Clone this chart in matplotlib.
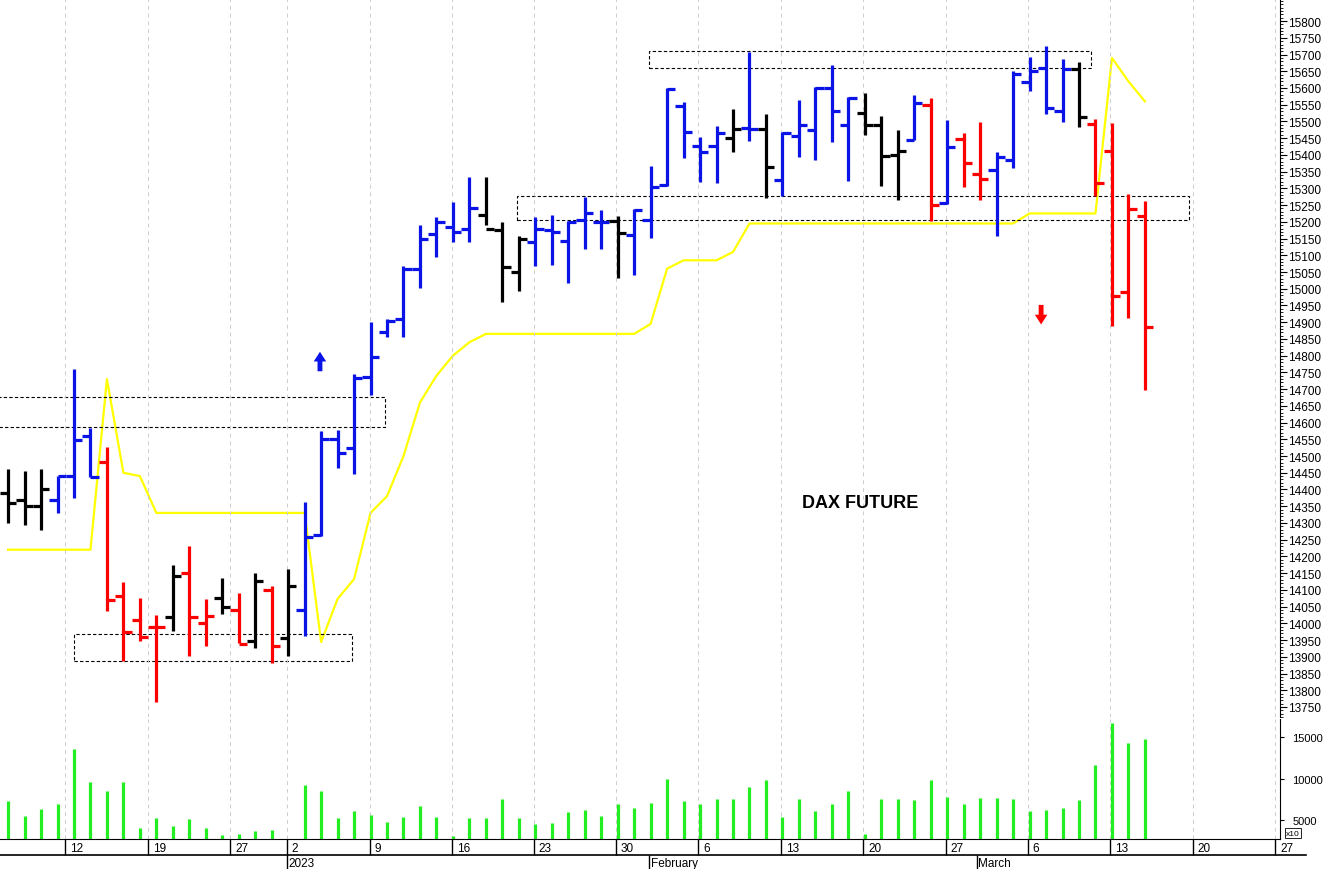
import matplotlib
matplotlib.use("Agg")
import matplotlib.pyplot as plt
import numpy as np

plt.rcParams["font.family"] = ["Liberation Sans", "DejaVu Sans"]

# DATA

opens = [14390, 14370, 14350, 14370, 14440, 14560, 14482, 14081, 14010, 13990,
         14020, 14150, 14001, 14075, 14040, 13947, 14100, 13956, 14040, 14264,
         14550, 14524, 14736, 14870, 14910, 15058, 15164, 15185, 15180, 15220,
         15175, 15050, 15140, 15175, 15142, 15205, 15200, 15203, 15160, 15205,
         15310, 15546, 15426, 15427, 15450, 15480, 15478, 15325, 15457, 15475,
         15600, 15488, 15525, 15490, 15400, 15445, 15550, 15255, 15448, 15343,
         15355, 15385, 15618, 15660, 15530, 15657, 15492, 15411, 14990, 15218]
highs = [14460, 14455, 14460, 14440, 14760, 14583, 14527, 14123, 14075, 14024,
         14174, 14231, 14072, 14135, 14090, 14150, 14112, 14162, 14362, 14574,
         14578, 14745, 14900, 14910, 15068, 15190, 15214, 15259, 15334, 15334,
         15199, 15157, 15214, 15220, 15202, 15274, 15235, 15217, 15237, 15367,
         15600, 15558, 15453, 15486, 15537, 15707, 15522, 15468, 15564, 15603,
         15668, 15573, 15585, 15516, 15474, 15580, 15570, 15504, 15465, 15498,
         15408, 15651, 15692, 15725, 15686, 15677, 15507, 15495, 15283, 15262]
lows = [14300, 14294, 14280, 14330, 14374, 14437, 14036, 13887, 13947, 13764,
        13977, 13902, 13932, 14028, 13940, 13926, 13881, 13902, 13962, 14261,
        14464, 14446, 14682, 14855, 14855, 15002, 15094, 15139, 15139, 15190,
        14960, 14993, 15068, 15070, 15017, 15118, 15120, 15032, 15040, 15151,
        15307, 15390, 15319, 15316, 15408, 15441, 15271, 15277, 15393, 15384,
        15438, 15322, 15459, 15307, 15265, 15444, 15202, 15253, 15303, 15265,
        15157, 15361, 15591, 15522, 15498, 15483, 15277, 14888, 14912, 14697]
closes = [14360, 14350, 14400, 14440, 14548, 14437, 14070, 13974, 13960, 13988,
          14141, 14020, 14021, 14048, 13938, 14126, 13932, 14112, 14257, 14550,
          14509, 14733, 14796, 14905, 15060, 15148, 15200, 15170, 15240, 15180,
          15065, 15150, 15180, 15170, 15200, 15225, 15200, 15166, 15235, 15304,
          15597, 15468, 15410, 15465, 15477, 15477, 15364, 15465, 15490, 15600,
          15531, 15570, 15490, 15397, 15412, 15555, 15250, 15423, 15376, 15328,
          15393, 15642, 15650, 15540, 15657, 15513, 15316, 14978, 15238, 14885]
bar_colors = list("kkkbbbrrrrkrrkrkrkbbbbbbbbbbbkkkbbbbbkbbbbbbkbkbbbbbkkkbrbrrbbbbbkrrrr")

volume = [7270, 5500, 6320, 6980, 13590, 9630, 8510, 9630, 4090, 5210,
          4260, 5080, 4090, 3220, 3310, 3680, 3760, 1500, 9210, 8470,
          5250, 6070, 5580, 4750, 5330, 6730, 5330, 3100, 5250, 5250,
          7560, 5250, 4460, 4590, 5950, 6200, 5500, 6940, 6450, 7020,
          9960, 7310, 6980, 7560, 7560, 9010, 9830, 5330, 7560, 6070,
          6980, 8550, 3270, 7560, 7560, 7440, 9790, 7810, 6940, 7680,
          7680, 7520, 6070, 6160, 6450, 7350, 11570, 16730, 14250, 14790]

stop_line = [14220, 14220, 14220, 14220, 14220, 14220, 14730, 14450, 14440, 14330,
             14330, 14330, 14330, 14330, 14330, 14330, 14330, 14330, 14330, 13944,
             14073, 14132, 14330, 14380, 14500, 14660, 14740, 14800, 14840, 14865,
             14865, 14865, 14865, 14865, 14865, 14865, 14865, 14865, 14865, 14895,
             15060, 15085, 15085, 15085, 15110, 15195, 15195, 15195, 15195, 15195,
             15195, 15195, 15195, 15195, 15195, 15195, 15195, 15195, 15195, 15195,
             15195, 15195, 15225, 15225, 15225, 15225, 15225, 15690, 15620, 15560]

# dashed boxes: x0, x1, low, high
boxes = [(-0.6, 22.9, 14586, 14676),
         (4.0, 20.9, 13887, 13968),
         (30.9, 71.7, 15205, 15277),
         (38.9, 65.7, 15660, 15710)]

week_pos = [3.46, 8.5, 13.47, 16.9, 21.97, 26.94, 31.9, 36.9, 41.9, 46.9,
            51.9, 56.9, 61.9, 66.9, 71.9, 76.9]
week_labels = ["12", "19", "27", "2", "9", "16", "23", "30", "6", "13",
               "20", "27", "6", "13", "20", "27"]
month_pos = [16.9, 38.9, 58.8]
month_labels = ["2023", "February", "March"]

COLORS = {"k": "black", "b": "#0a14e6", "r": "#ff0000"}

# FIGURE

fig = plt.figure(figsize=(13.28, 8.70), dpi=100)
W = 1280 / 1328
ax = fig.add_axes([0, 1 - 718 / 870, W, 718 / 870])
axv = fig.add_axes([0, 30 / 870, W, 120 / 870], sharex=ax)
axd = fig.add_axes([0, 0, W, 30 / 870], sharex=ax)

x = np.arange(len(opens))
for i in x:
    c = COLORS[bar_colors[i]]
    ax.vlines(i, lows[i], highs[i], color=c, lw=2.3)
    ax.hlines(opens[i], i - 0.5, i, color=c, lw=2.3)
    ax.hlines(closes[i], i, i + 0.5, color=c, lw=2.3)

ax.plot(x, stop_line, color="#ffff00", lw=1.6, zorder=1)

for x0, x1, lo, hi in boxes:
    ax.add_patch(plt.Rectangle((x0, lo), x1 - x0, hi - lo, fill=False,
                               ls=(0, (3, 2)), lw=0.8, ec="black"))

ax.annotate("", xy=(18.93, 14820), xytext=(18.93, 14745),
            arrowprops=dict(arrowstyle="simple,head_width=0.9,head_length=0.7,tail_width=0.35",
                            color="#0a14e6", lw=0))
ax.annotate("", xy=(62.7, 14885), xytext=(62.7, 14960),
            arrowprops=dict(arrowstyle="simple,head_width=0.9,head_length=0.7,tail_width=0.35",
                            color="#ff0000", lw=0))

ax.text(51.7, 14360, "DAX FUTURE", fontsize=13, fontweight="bold", ha="center", va="center")

ax.set_xlim(-0.49, 77.2)
ax.set_ylim(13720, 15866)
ax.yaxis.tick_right()
ax.set_yticks(np.arange(13750, 15801, 50))
ax.set_yticks(np.arange(13720, 15866, 10), minor=True)
ax.tick_params(axis="y", labelsize=8.5, length=5, pad=1)
ax.tick_params(axis="y", which="minor", length=2.5)
ax.tick_params(axis="x", bottom=False, labelbottom=False)
for s in ["left", "top", "bottom"]:
    ax.spines[s].set_visible(False)
ax.set_xticks(week_pos)
ax.grid(axis="x", color="#cccccc", ls=(0, (4, 4)), lw=0.7)

# VOLUME
axv.vlines(x, 0, volume, color="#22ee22", lw=2.3)
axv.set_ylim(2710, 17170)
axv.yaxis.tick_right()
axv.set_yticks([5000, 10000, 15000])
axv.tick_params(axis="y", labelsize=8, length=3, pad=6)
axv.tick_params(axis="x", bottom=False, labelbottom=False)
for s in ["left", "top"]:
    axv.spines[s].set_visible(False)
axv.grid(axis="x", color="#cccccc", ls=(0, (4, 4)), lw=0.7)
axv.text(1.005, 0.02, "x10", transform=axv.transAxes, fontsize=6, va="bottom",
         bbox=dict(boxstyle="square,pad=0.15", fc="white", ec="black", lw=0.6))

# DATE ROWS
axd.set_ylim(0, 30)
axd.axis("off")
axd.axhline(14, color="black", lw=1.2, xmax=1.02, clip_on=False)
for p, lab in zip(week_pos, week_labels):
    axd.vlines(p, 14, 30, color="black", lw=1)
    axd.text(p + 0.3, 21, lab, fontsize=8.5, va="center", ha="left")
for p, lab in zip(month_pos, month_labels):
    axd.vlines(p, 0, 14, color="black", lw=1)
    axd.text(p + 0.1, 6, lab, fontsize=8.5, va="center", ha="left")

fig.savefig("out.png", dpi=100)
